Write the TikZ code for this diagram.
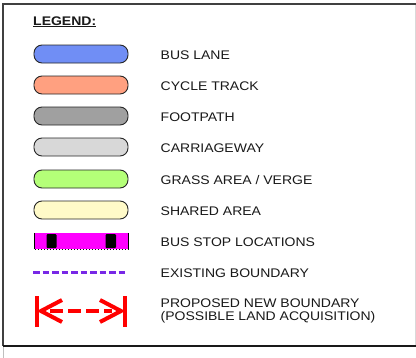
\documentclass[tikz,border=0pt]{standalone}
\usepackage{fontspec}
\setmainfont{Liberation Sans}[FakeStretch=1.12]
\definecolor{buslane}{RGB}{112,142,245}
\definecolor{cycle}{RGB}{255,160,128}
\definecolor{foot}{RGB}{160,160,160}
\definecolor{carriage}{RGB}{216,216,216}
\definecolor{grass}{RGB}{180,255,120}
\definecolor{shared}{RGB}{255,250,200}
\definecolor{busstop}{RGB}{255,0,255}
\definecolor{existing}{RGB}{120,40,230}
\definecolor{propred}{RGB}{255,0,0}
\begin{document}
\begin{tikzpicture}[x=1bp,y=-1bp,
  swatch/.style={draw=black!85, line width=0.9bp, rounded corners=8bp, minimum width=94bp, minimum height=18bp, inner sep=0pt},
  lbl/.style={anchor=base west, font=\fontsize{12.5bp}{13bp}\selectfont, inner sep=0pt, text=black!90},
  frameline/.style={line width=1.8bp}]
\useasboundingbox (0,0) rectangle (416,358);
\fill[white] (0,0) rectangle (416,358);
% frame
\draw[black!15, line width=0.8bp] (415,5) -- (415,345);
\draw[black!25, line width=0.8bp] (3,347) -- (3,358);
\draw[frameline, black!75] (416,4) -- (3,4) -- (3,346);
\draw[frameline, black!90] (3,346) -- (416,346);
% title
\node[lbl, font=\fontsize{12.5bp}{13bp}\selectfont\bfseries] (title) at (33,25) {\underline{LEGEND:}};
% swatches
\node[swatch, fill=buslane] (s1) at (81,54) {};
\node[swatch, fill=cycle] (s2) at (81,85) {};
\node[swatch, fill=foot] (s3) at (81,116) {};
\node[swatch, fill=carriage] (s4) at (81,147) {};
\node[swatch, fill=grass] (s5) at (81,179) {};
\node[swatch, fill=shared] (s6) at (81,210) {};
% bus stop
\node[fill=busstop, minimum width=93bp, minimum height=16bp, inner sep=0pt] (s7) at (81.5,241) {};
\fill[black, rounded corners=1bp] (46.5,234) rectangle (56.5,248);
\fill[black, rounded corners=1bp] (105.5,234) rectangle (116,248);
\draw[black, line width=1.3bp] (s7.north west) -- (s7.south west);
\draw[black, line width=1.3bp] (s7.north east) -- (s7.south east);
\draw[black, line width=1.2bp, dash pattern=on 1.5bp off 1.5bp] (s7.south west) -- (s7.south east);
% existing boundary
\coordinate (e1) at (33,272);
\coordinate (e2) at (128,272);
\draw[existing, line width=3bp, dash pattern=on 6.5bp off 3bp] (e1) -- (e2);
% proposed boundary
\coordinate (pl1) at (37,296);
\coordinate (pl2) at (37,327);
\coordinate (pr1) at (125,296);
\coordinate (pr2) at (125,327);
\coordinate (pa) at (41,311);
\coordinate (pb) at (121,311);
\draw[propred, line width=4.5bp] (pl1) -- (pl2);
\draw[propred, line width=4.5bp] (pr1) -- (pr2);
\draw[propred, line width=4bp] (62,300) -- (pa) -- (62,322);
\draw[propred, line width=4bp] (100,300) -- (pb) -- (100,322);
\draw[propred, line width=4bp, dash pattern=on 13bp off 5bp] (50,311) -- (112,311);
% labels
\node[lbl] (l1) at (160.5,59.3) {BUS LANE};
\node[lbl] (l2) at (160.5,90.3) {CYCLE TRACK};
\node[lbl] (l3) at (160.5,121.3) {FOOTPATH};
\node[lbl] (l4) at (160.5,152.3) {CARRIAGEWAY};
\node[lbl] (l5) at (160.5,184.3) {GRASS AREA / VERGE};
\node[lbl] (l6) at (160.5,215.3) {SHARED AREA};
\node[lbl] (l7) at (160.5,246.3) {BUS STOP LOCATIONS};
\node[lbl] (l8) at (160.5,277.3) {EXISTING BOUNDARY};
\node[lbl] (l9) at (160.5,307) {PROPOSED NEW BOUNDARY};
\node[lbl] (l10) at (160.5,320.5) {(POSSIBLE LAND ACQUISITION)};
\end{tikzpicture}
\end{document}
